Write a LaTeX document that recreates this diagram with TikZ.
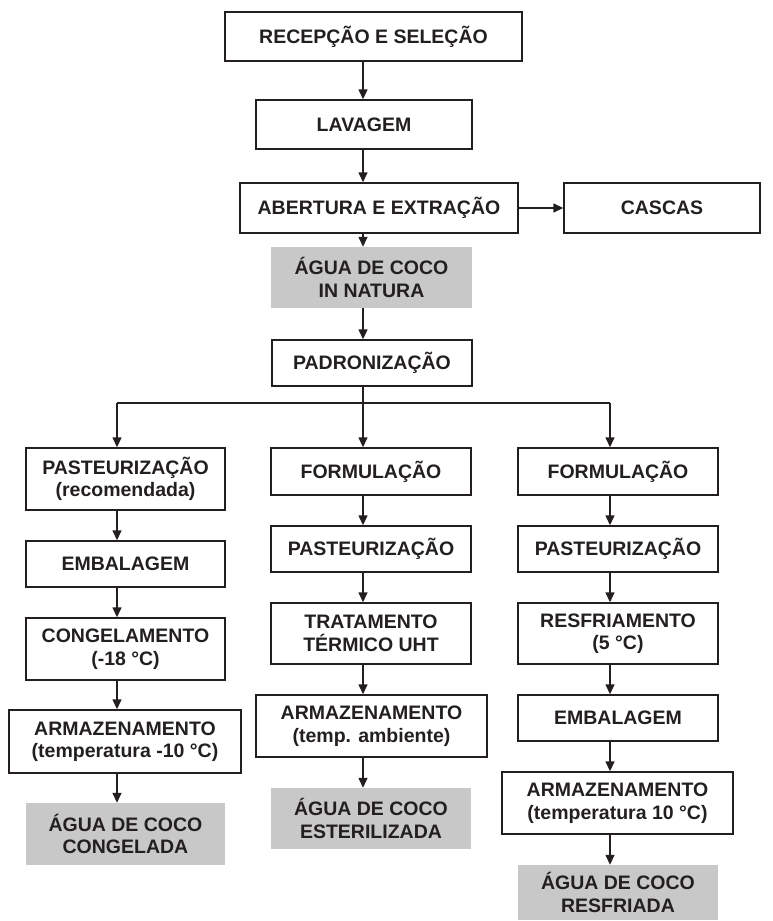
\documentclass[tikz,border=0pt]{standalone}
\usepackage{fontspec}
\setmainfont{Liberation Sans}
\usetikzlibrary{arrows.meta}
\definecolor{prodgray}{RGB}{200,200,200}
\definecolor{ink}{RGB}{35,31,32}

\tikzset{
  stage/.style={draw=ink, text=ink, line width=1.4pt, align=center, inner sep=0pt,
    font=\bfseries\fontsize{19.5}{22.5}\selectfont},
  product/.style={fill=prodgray, text=ink, align=center, inner sep=0pt,
    font=\bfseries\fontsize{19.5}{22.5}\selectfont},
  sz/.style 2 args={minimum width=#1pt, minimum height=#2pt},
  flow/.style={draw=ink, line width=1.4pt, -{Triangle[length=10pt,width=9pt]}}
}

\begin{document}
\begin{tikzpicture}[x=1pt, y=-1pt]
  \useasboundingbox (0,0) rectangle (773,921);
  % axes of the arrows
  \coordinate (axis) at (363,0);
  \coordinate (colL) at (117,0);
  \coordinate (colM) at (363,0);
  \coordinate (colR) at (610,0);
  \coordinate (bus) at (363,403);

  % main line
  \node[stage, sz={297}{49}] (rec) at (373.5,36.5) {RECEPÇÃO E SELEÇÃO};
  \node[stage, sz={216}{49}] (lav) at (364,124.5) {LAVAGEM};
  \node[stage, sz={278}{50}] (abe) at (379,208) {ABERTURA E EXTRAÇÃO};
  \node[stage, sz={196}{50}] (cas) at (662,208) {CASCAS};
  \node[product, sz={201}{61}] (nat) at (371.5,277.5) {ÁGUA DE COCO\\IN NATURA};
  \node[stage, sz={200}{46}] (pad) at (372,363) {PADRONIZAÇÃO};

  % left column: frozen
  \node[stage, sz={199}{62}] (pasrec) at (125.5,479) {PASTEURIZAÇÃO\\(recomendada)};
  \node[stage, sz={199}{46}] (embL) at (125.5,564) {EMBALAGEM};
  \node[stage, sz={199}{62}] (cong) at (125.5,649) {CONGELAMENTO\\(-18 °C)};
  \node[stage, sz={232}{63}] (armL) at (125,741.5) {ARMAZENAMENTO\\(temperatura -10 °C)};
  \node[product, sz={199}{62}] (congel) at (125.5,834) {ÁGUA DE COCO\\CONGELADA};

  % middle column: sterilized
  \node[stage, sz={200}{47}] (formM) at (371,471.5) {FORMULAÇÃO};
  \node[stage, sz={200}{46}] (pasM) at (371,549) {PASTEURIZAÇÃO};
  \node[stage, sz={200}{61}] (uht) at (371,633.5) {TRATAMENTO\\TÉRMICO UHT};
  \node[stage, sz={231}{62}] (armM) at (371.5,726) {ARMAZENAMENTO\\(temp. ambiente)};
  \node[product, sz={200}{61}] (ester) at (371,818.5) {ÁGUA DE COCO\\ESTERILIZADA};

  % right column: chilled
  \node[stage, sz={200}{47}] (formR) at (618,471.5) {FORMULAÇÃO};
  \node[stage, sz={200}{46}] (pasR) at (618,549) {PASTEURIZAÇÃO};
  \node[stage, sz={200}{61}] (resf) at (618,633.5) {RESFRIAMENTO\\(5 °C)};
  \node[stage, sz={200}{46}] (embR) at (618,718) {EMBALAGEM};
  \node[stage, sz={231}{62}] (armR) at (617.5,803) {ARMAZENAMENTO\\(temperatura 10 °C)};
  \node[product, sz={200}{55}] (resfr) at (618,892.5) {ÁGUA DE COCO\\RESFRIADA};

  % connectors
  \draw[flow] (rec.south -| axis) -- (lav.north -| axis);
  \draw[flow] (lav.south -| axis) -- (abe.north -| axis);
  \draw[flow] (abe.east) -- (cas.west);
  \draw[flow] (abe.south -| axis) -- (nat.north -| axis);
  \draw[flow] (nat.south -| axis) -- (pad.north -| axis);
  \draw[draw=ink, line width=1.4pt] (pad.south -| axis) -- (bus);
  \draw[draw=ink, line width=1.9pt] (bus -| colL) -- (bus -| colR);
  \draw[flow] (bus -| colL) -- (pasrec.north -| colL);
  \draw[flow] (bus -| colM) -- (formM.north -| colM);
  \draw[flow] (bus -| colR) -- (formR.north -| colR);

  \draw[flow] (pasrec.south -| colL) -- (embL.north -| colL);
  \draw[flow] (embL.south -| colL) -- (cong.north -| colL);
  \draw[flow] (cong.south -| colL) -- (armL.north -| colL);
  \draw[flow] (armL.south -| colL) -- (congel.north -| colL);

  \draw[flow] (formM.south -| colM) -- (pasM.north -| colM);
  \draw[flow] (pasM.south -| colM) -- (uht.north -| colM);
  \draw[flow] (uht.south -| colM) -- (armM.north -| colM);
  \draw[flow] (armM.south -| colM) -- (ester.north -| colM);

  \draw[flow] (formR.south -| colR) -- (pasR.north -| colR);
  \draw[flow] (pasR.south -| colR) -- (resf.north -| colR);
  \draw[flow] (resf.south -| colR) -- (embR.north -| colR);
  \draw[flow] (embR.south -| colR) -- (armR.north -| colR);
  \draw[flow] (armR.south -| colR) -- (resfr.north -| colR);
\end{tikzpicture}
\end{document}
